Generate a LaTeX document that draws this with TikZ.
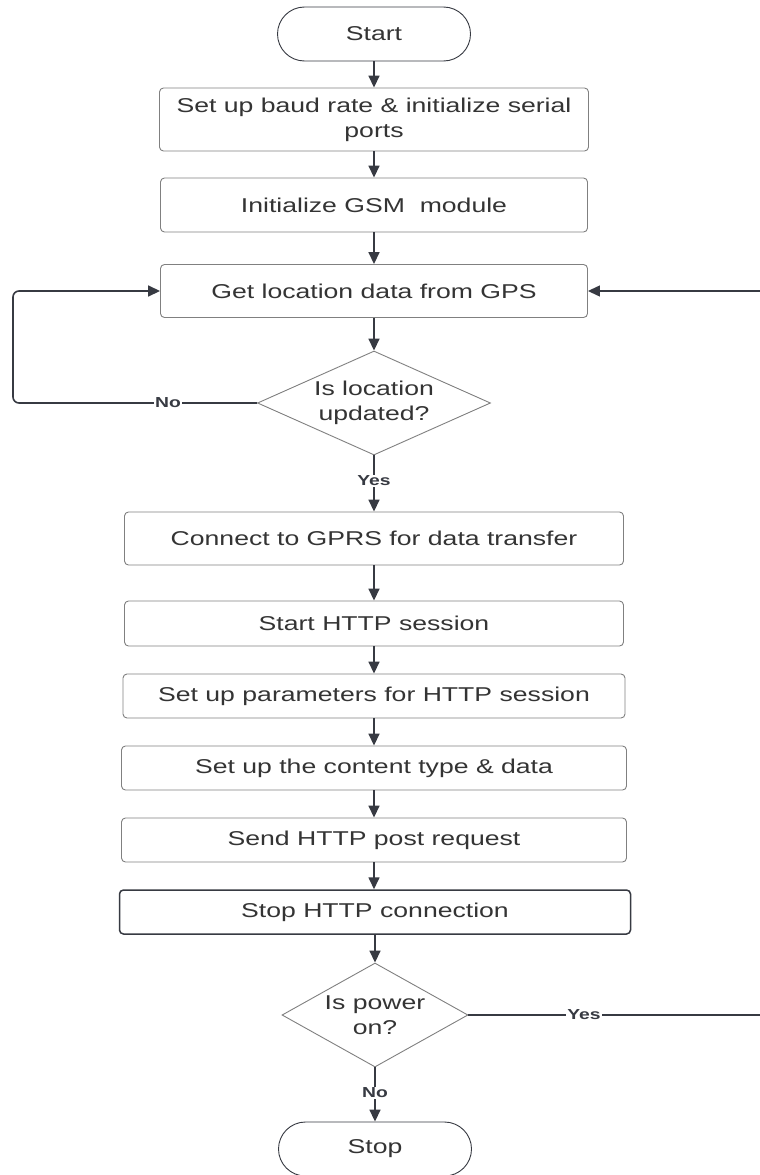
\documentclass[tikz,border=0pt]{standalone}
\usepackage{fontspec}
\setmainfont{Liberation Sans}[FakeStretch=1.33]
\usetikzlibrary{arrows.meta,shapes.geometric}

\definecolor{linegray}{RGB}{55,58,66}
\definecolor{boxgray}{RGB}{128,128,128}
\definecolor{textgray}{RGB}{52,52,52}

\tikzset{
  procbox/.style={draw=boxgray, line width=0.9pt, rounded corners=4pt, inner sep=0pt,
    align=center, text=textgray, font=\fontsize{20}{25}\selectfont},
  terminal/.style={procbox, draw=linegray, rounded corners=27pt,
    minimum width=193pt, minimum height=54pt},
  decision/.style={diamond, draw=boxgray, line width=0.9pt, inner sep=0pt, aspect=2,
    align=center, text=textgray, font=\fontsize{20}{25}\selectfont},
  flowline/.style={draw=linegray, line width=1.6pt, -{Triangle[width=11pt,length=12pt]}},
  lbl/.style={fill=white, inner sep=1pt, text=linegray, font=\fontsize{14.5}{17}\bfseries\selectfont}
}

\begin{document}
\begin{tikzpicture}[x=1pt, y=-1pt]
    \useasboundingbox[fill=white] (0,0) rectangle (760,1175);

    % Steps
    \node[terminal] (start) at (374,34) {Start};
    \node[procbox, minimum width=429pt, minimum height=63pt] (baud) at (374,119.5) {Set up baud rate \& initialize serial\\ports};
    \node[procbox, minimum width=427pt, minimum height=54pt] (gsm) at (374,205) {Initialize GSM\ \ module};
    \node[procbox, minimum width=427pt, minimum height=53pt] (gps) at (374,291) {Get location data from GPS};
    \node[decision, minimum width=233pt, minimum height=104pt] (locchk) at (374,403) {Is location\\updated?};
    \node[procbox, minimum width=499pt, minimum height=53pt] (gprs) at (374,538.5) {Connect to GPRS for data transfer};
    \node[procbox, minimum width=499pt, minimum height=45pt] (http) at (374,623.5) {Start HTTP session};
    \node[procbox, minimum width=502pt, minimum height=44pt] (params) at (374,696) {Set up parameters for HTTP session};
    \node[procbox, minimum width=505pt, minimum height=44pt] (content) at (374,768) {Set up the content type \& data};
    \node[procbox, minimum width=505pt, minimum height=44pt] (post) at (374,840) {Send HTTP post request};
    \node[procbox, draw=linegray, line width=1.5pt, minimum width=511pt, minimum height=44pt] (close) at (375,912) {Stop HTTP connection};
    \node[decision, minimum width=186pt, minimum height=104pt] (powchk) at (375,1015) {Is power\\on?};
    \node[terminal] (stop) at (375,1149) {Stop};

    % Straight arrows
    \draw[flowline] (start) -- (baud);
    \draw[flowline] (baud) -- (gsm);
    \draw[flowline] (gsm) -- (gps);
    \draw[flowline] (gps) -- (locchk);
    \draw[flowline] (locchk) -- (gprs);
    \draw[flowline] (gprs) -- (http);
    \draw[flowline] (http) -- (params);
    \draw[flowline] (params) -- (content);
    \draw[flowline] (content) -- (post);
    \draw[flowline] (post.south) -- (post.south |- close.north);
    \draw[flowline] (close) -- (powchk);
    \draw[flowline] (powchk) -- (stop);

    % Loops back to the GPS step (right one runs off the page edge)
    \coordinate (loopL) at (13,291);
    \coordinate (loopR) at (766,291);
    \draw[flowline, rounded corners=6pt] (locchk.west) -| (loopL) -- (gps.west);
    \draw[flowline, line width=1.3pt] (powchk.east) -| (loopR) -- (gps.east);

    % Labels
    \node[lbl] (nolocl) at (168,403) {No};
    \node[lbl] (yesloc) at (374,481) {Yes};
    \node[lbl] (yespow) at (584,1015) {Yes};
    \node[lbl] (nopow) at (375,1093) {No};
\end{tikzpicture}
\end{document}
